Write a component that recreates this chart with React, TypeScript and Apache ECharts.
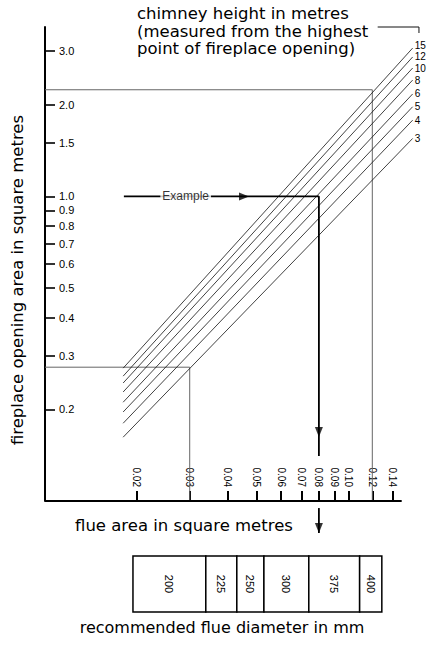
import React, { useEffect, useRef } from 'react';
import * as echarts from 'echarts';

// chimney height (m) for each line, top line first
const chimneyHeights = ['15', '12', '10', '8', '6', '5', '4', '3'];
// each line runs from flueStart to flueEnd (flue area, m²)
const flueStart = 0.0181;
const flueEnd = 0.163;
// fireplace opening area (m²) at both ends of each line
const fireplaceAtStart = [0.273, 0.257, 0.244, 0.228, 0.211, 0.196, 0.18, 0.162];
const fireplaceAtEnd = [3.07, 2.87, 2.64, 2.41, 2.17, 1.97, 1.78, 1.55];

const yTickValues = [3.0, 2.0, 1.5, 1.0, 0.9, 0.8, 0.7, 0.6, 0.5, 0.4, 0.3, 0.2];
const xTickValues = [0.02, 0.03, 0.04, 0.05, 0.06, 0.07, 0.08, 0.09, 0.1, 0.12, 0.14];
// drawn length of the flue-area scale
const flueScaleLine = [[0.01, 0.1], [0.15, 0.1]];

// recommended flue diameter bands along the flue-area scale
const diameterLabels = ['200', '225', '250', '300', '375', '400'];
const diameterBounds = [0.0195, 0.0339, 0.0429, 0.0527, 0.0741, 0.109, 0.129];

// guide lines (largest / smallest fireplace)
const maxGuide = [[0.01, 2.24], [0.12, 2.24], [0.12, 0.1]];
const minGuide = [[0.01, 0.275], [0.03, 0.275], [0.03, 0.1]];

// worked example
const examplePath = [[0.0182, 1.0], [0.08, 1.0], [0.08, 0.1405]];
const exampleLabelAt = [[0.0291, 1.0]];
const exampleBelowAxis = [[0.08, 0.0948], [0.08, 0.0785]];
// arrow heads: x, y, rotation
const arrowHeads = [[0.0453, 1.0, -90], [0.08, 0.1684, 180], [0.08, 0.0815, 180]];

// bracket joining the legend title to the line labels
const bracket = [[0.125, 3.6], [0.171, 3.6], [0.171, 3.44]];

const X_MIN = 0.01;
const X_MAX = 0.175;
const FONT = 'Liberation Sans';
const TITLE_FONT = 'DejaVu Sans';

export default function App() {
  const chartRef = useRef<HTMLDivElement>(null);

  useEffect(() => {
    if (!chartRef.current) return;
    const chart = echarts.init(chartRef.current, null, { renderer: 'svg' });

    const chimneySeries = chimneyHeights.map((h, i) => ({
      type: 'line',
      name: h,
      xAxisIndex: 0,
      yAxisIndex: 0,
      data: [
        [flueStart, fireplaceAtStart[i]],
        [flueEnd, fireplaceAtEnd[i]],
      ],
      symbol: 'none',
      clip: false,
      silent: true,
      lineStyle: { color: '#111', width: 0.8 },
      endLabel: {
        show: true,
        formatter: () => h,
        fontSize: 10,
        fontFamily: FONT,
        color: '#000',
        distance: 2,
        offset: i === 0 ? [0, -3] : [0, 0],
      },
    }));

    const plainLine = (data: number[][], color: string, width: number, z = 2) => ({
      type: 'line',
      data,
      symbol: 'none',
      clip: false,
      silent: true,
      z,
      lineStyle: { color, width },
    });

    const option: any = {
      animation: false,
      backgroundColor: '#fff',
      textStyle: { fontFamily: FONT },
      grid: [
        { left: 45, right: 17, top: 27, bottom: 152 },
        { left: 45, right: 17, top: 556, height: 56 },
      ],
      xAxis: [
        {
          type: 'log',
          gridIndex: 0,
          min: X_MIN,
          max: X_MAX,
          axisLine: { show: false },
          axisTick: {
            show: true,
            inside: true,
            length: 10,
            customValues: xTickValues,
            lineStyle: { color: '#000', width: 2 },
          },
          axisLabel: {
            show: true,
            inside: true,
            rotate: -90,
            margin: 14,
            customValues: xTickValues,
            formatter: (v: number) => v.toFixed(2),
            fontSize: 10,
            fontFamily: FONT,
            color: '#000',
          },
          splitLine: { show: false },
          minorTick: { show: false },
        },
        {
          type: 'log',
          gridIndex: 1,
          min: X_MIN,
          max: X_MAX,
          show: false,
        },
      ],
      yAxis: [
        {
          type: 'log',
          gridIndex: 0,
          min: 0.1,
          max: 3.6,
          axisLine: { show: true, lineStyle: { color: '#000', width: 2 } },
          axisTick: {
            show: true,
            inside: true,
            length: 10,
            customValues: yTickValues,
            lineStyle: { color: '#000', width: 1.6 },
          },
          axisLabel: {
            show: true,
            inside: true,
            margin: 14,
            customValues: yTickValues,
            formatter: (v: number) => v.toFixed(1),
            fontSize: 11,
            fontFamily: FONT,
            color: '#000',
          },
          splitLine: { show: false },
          minorTick: { show: false },
        },
        {
          type: 'value',
          gridIndex: 1,
          min: 0,
          max: 1,
          show: false,
        },
      ],
      graphic: [
        {
          type: 'text',
          x: 137,
          y: 5,
          style: {
            text: 'chimney height in metres\n(measured from the highest\npoint of fireplace opening)',
            font: `16.5px "${TITLE_FONT}"`,
            lineHeight: 17.5,
            fill: '#000',
            align: 'left',
            verticalAlign: 'top',
          },
        },
        {
          type: 'text',
          x: 17,
          y: 280,
          rotation: Math.PI / 2,
          style: {
            text: 'fireplace opening area in square metres',
            font: `16.5px "${TITLE_FONT}"`,
            fill: '#000',
            align: 'center',
            verticalAlign: 'middle',
          },
        },
        {
          type: 'text',
          x: 75,
          y: 525,
          style: {
            text: 'flue area in square metres',
            font: `16.5px "${TITLE_FONT}"`,
            fill: '#000',
            align: 'left',
            verticalAlign: 'middle',
          },
        },
        {
          type: 'text',
          x: 222,
          y: 627,
          style: {
            text: 'recommended flue diameter in mm',
            font: `16px "${TITLE_FONT}"`,
            fill: '#000',
            align: 'center',
            verticalAlign: 'middle',
          },
        },
      ],
      series: [
        plainLine(maxGuide, '#666', 1),
        plainLine(minGuide, '#666', 1),
        plainLine(flueScaleLine, '#000', 2, 3),
        ...chimneySeries,
        plainLine(bracket, '#111', 1),
        plainLine(examplePath, '#000', 1.8, 5),
        plainLine(exampleBelowAxis, '#000', 1.8, 5),
        {
          type: 'scatter',
          data: arrowHeads,
          symbol: 'triangle',
          symbolSize: [8, 10],
          symbolRotate: (val: number[]) => val[2],
          clip: false,
          silent: true,
          z: 6,
          itemStyle: { color: '#000' },
        },
        {
          type: 'scatter',
          data: exampleLabelAt,
          symbolSize: 1,
          clip: false,
          silent: true,
          z: 7,
          itemStyle: { color: 'transparent' },
          label: {
            show: true,
            position: 'inside',
            formatter: 'Example',
            fontSize: 12,
            fontFamily: FONT,
            color: '#000',
            backgroundColor: '#fff',
            padding: [1, 2],
          },
        },
        {
          type: 'custom',
          xAxisIndex: 1,
          yAxisIndex: 1,
          data: diameterLabels.map((_, i) => [diameterBounds[i], diameterBounds[i + 1]]),
          silent: true,
          renderItem: (params: any, api: any) => {
            const p0 = api.coord([api.value(0), 0]);
            const p1 = api.coord([api.value(1), 1]);
            return {
              type: 'group',
              children: [
                {
                  type: 'rect',
                  shape: {
                    x: p0[0],
                    y: p1[1],
                    width: p1[0] - p0[0],
                    height: p0[1] - p1[1],
                  },
                  style: { fill: '#fff', stroke: '#000', lineWidth: 1.5 },
                },
                {
                  type: 'text',
                  x: (p0[0] + p1[0]) / 2,
                  y: (p0[1] + p1[1]) / 2,
                  rotation: -Math.PI / 2,
                  style: {
                    text: diameterLabels[params.dataIndex],
                    align: 'center',
                    verticalAlign: 'middle',
                    fontSize: 11,
                    fontFamily: FONT,
                    fill: '#000',
                  },
                },
              ],
            };
          },
        },
      ],
    };

    chart.setOption(option);
    return () => {
      chart.dispose();
    };
  }, []);

  return (
    <div
      ref={chartRef}
      style={{ position: 'fixed', left: 0, top: 0, width: 439, height: 653, background: '#fff' }}
    />
  );
}
